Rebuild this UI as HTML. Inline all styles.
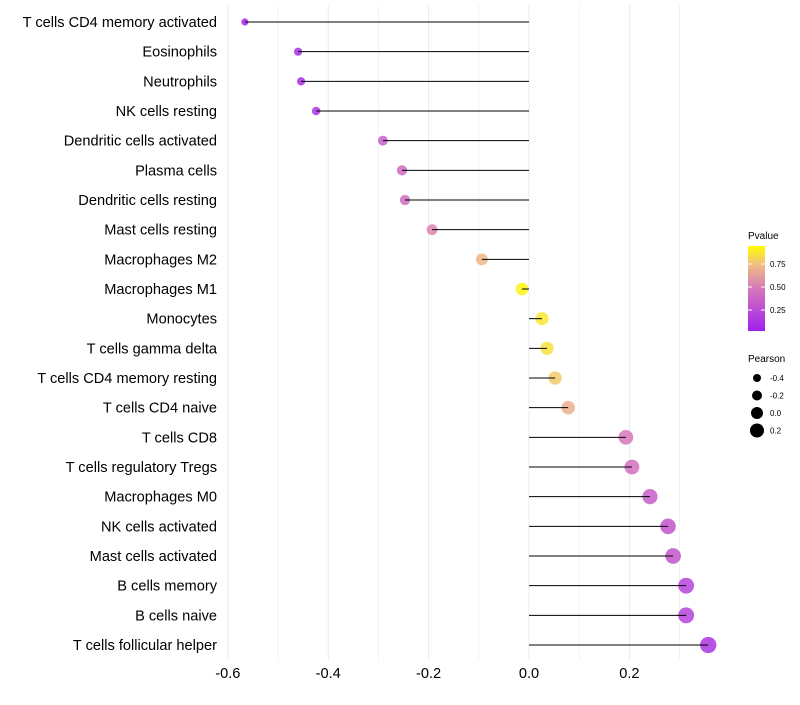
<!DOCTYPE html>
<html><head><meta charset="utf-8"><style>
body{margin:0;background:#fff;font-family:"Liberation Sans",sans-serif}
</style></head><body>
<svg id="chart" width="800" height="700" xmlns="http://www.w3.org/2000/svg" font-family="Liberation Sans, sans-serif"></svg>
<script>
const categories=["T cells CD4 memory activated","Eosinophils","Neutrophils","NK cells resting","Dendritic cells activated","Plasma cells","Dendritic cells resting","Mast cells resting","Macrophages M2","Macrophages M1","Monocytes","T cells gamma delta","T cells CD4 memory resting","T cells CD4 naive","T cells CD8","T cells regulatory  Tregs ","Macrophages M0","NK cells activated","Mast cells activated","B cells memory","B cells naive","T cells follicular helper"];
const pearson=[-0.566,-0.46,-0.454,-0.424,-0.291,-0.253,-0.247,-0.193,-0.094,-0.014,0.026,0.036,0.052,0.078,0.193,0.205,0.241,0.277,0.287,0.313,0.313,0.357];
const pvalue=[0.03,0.08,0.08,0.1,0.35,0.42,0.42,0.55,0.75,0.96,0.92,0.9,0.82,0.72,0.5,0.45,0.35,0.3,0.3,0.2,0.2,0.12];
const xTicks=[-0.6,-0.4,-0.2,0.0,0.2];
const xMinor=[-0.5,-0.3,-0.1,0.1,0.3];
const pTicks=[0.25,0.5,0.75];
const sizeLegend=[-0.4,-0.2,0.0,0.2];
const svg=document.getElementById('chart');const NS='http://www.w3.org/2000/svg';
function el(t,a,p){const e=document.createElementNS(NS,t);for(const k in a)e.setAttribute(k,a[k]);(p||svg).appendChild(e);return e;}
const x=v=>529+v*502;
const y=i=>22+i*(623/21);
const r=v=>Math.max(2.2,6.4+5*v);
function col(p){const s=[[0,[160,32,240]],[0.5,[215,120,185]],[0.78,[240,190,130]],[1,[255,255,0]]];
for(let i=1;i<s.length;i++){if(p<=s[i][0]){const t=(p-s[i-1][0])/(s[i][0]-s[i-1][0]);const c=s[i-1][1].map((v,j)=>Math.round(v+(s[i][1][j]-v)*t));return `rgb(${c})`;}}return 'rgb(255,255,0)';}
xTicks.concat(xMinor).forEach(v=>{const g=el('line',{x1:x(v),x2:x(v),y1:5,y2:660,stroke:'#ebebeb','stroke-width':xTicks.includes(v)?1:0.6});
});
xTicks.forEach(v=>{const t=el('text',{x:x(v),y:678,'text-anchor':'middle','font-size':14.6,fill:'#000'});t.textContent=v.toFixed(1);
});
categories.forEach((c,i)=>{const t=el('text',{x:217,y:y(i)+5,'text-anchor':'end','font-size':14.6,fill:'#000'});t.textContent=c;

const d=el('circle',{cx:x(pearson[i]),cy:y(i),r:r(pearson[i]),fill:col(pvalue[i]),'fill-opacity':0.85});

const l=el('line',{x1:x(0),x2:x(pearson[i]),y1:y(i),y2:y(i),stroke:'#000','stroke-width':1});
});
const lt=el('text',{x:748,y:239,'font-size':10});lt.textContent='Pvalue';
const defs=el('defs',{});const gr=el('linearGradient',{id:'pg',x1:0,y1:1,x2:0,y2:0},defs);
[0,0.25,0.5,0.65,0.78,0.9,1].forEach(o=>el('stop',{offset:o,'stop-color':col(o)},gr));
const bar=el('rect',{x:748,y:246,width:17,height:85,fill:'url(#pg)'});
const py=p=>333-p*92;
pTicks.forEach(p=>{el('line',{x1:748,x2:752,y1:py(p),y2:py(p),stroke:'#fff'});el('line',{x1:761,x2:765,y1:py(p),y2:py(p),stroke:'#fff'});
const t=el('text',{x:770,y:py(p)+3,'font-size':8});t.textContent=p.toFixed(2);});
const st=el('text',{x:748,y:362,'font-size':10});st.textContent='Pearson';
sizeLegend.forEach((v,i)=>{const cy=378+i*17.5;const c=el('circle',{cx:757,cy:cy,r:r(v)-0.4,fill:'#000'});
const t=el('text',{x:770,y:cy+3,'font-size':8});t.textContent=v.toFixed(1);});
</script>
</body></html>
